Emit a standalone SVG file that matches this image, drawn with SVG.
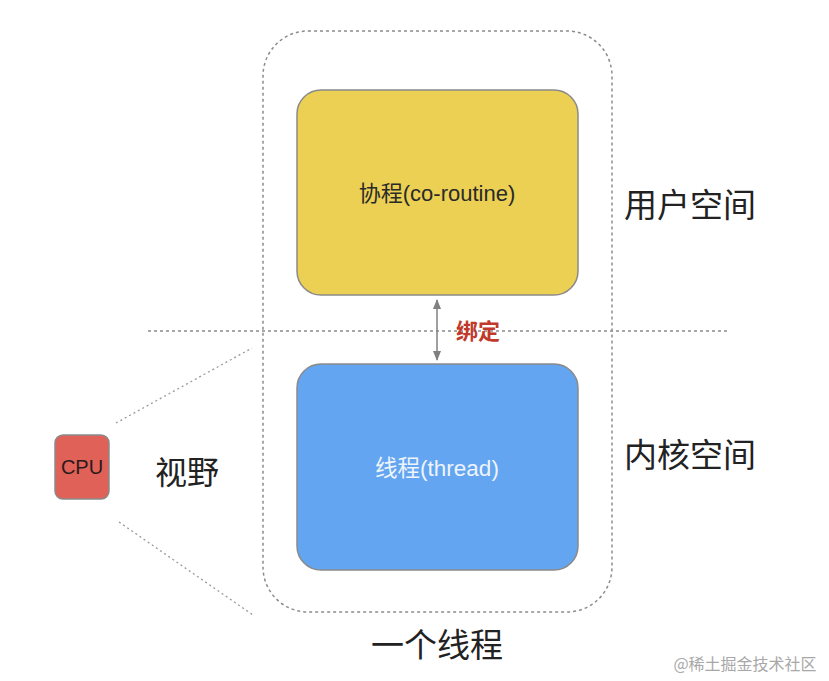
<svg xmlns="http://www.w3.org/2000/svg" width="829" height="681" viewBox="0 0 829 681">
<defs>
<style>
text{font-family:"Liberation Sans","Noto Sans CJK SC",sans-serif}
.cjk{font-family:"Noto Sans CJK SC",sans-serif}
.dash{fill:none;stroke:#8c8c8c;stroke-width:1.5;stroke-dasharray:3 3}
.dot{fill:none;stroke:#9a9a9a;stroke-width:1.3;stroke-dasharray:2 3}
.box{stroke:#8a8a8a;stroke-width:1.5}
</style>
<marker id="ah" viewBox="0 0 10 10" refX="9" refY="5" markerWidth="10" markerHeight="10" markerUnits="userSpaceOnUse" orient="auto-start-reverse">
<path d="M0,1 L10,5 L0,9 z" fill="#808080"/>
</marker>
</defs>
<rect width="829" height="681" fill="#ffffff"/>
<g id="thread-boundary">
<rect class="dash" x="263" y="31" width="349" height="581" rx="45" ry="45"/>
<text class="cjk" x="437" y="657" font-size="33" text-anchor="middle" fill="#222">一个线程</text>
</g>
<g id="divider">
<line class="dash" x1="148" y1="331" x2="730" y2="331"/>
</g>
<g id="coroutine">
<rect class="box" x="297" y="90" width="281" height="205" rx="24" ry="24" fill="#ecd053"/>
<text x="437" y="201" font-size="22" text-anchor="middle" fill="#2a2a2a">协程(co-routine)</text>
</g>
<g id="thread">
<rect class="box" x="297" y="364" width="281" height="206" rx="24" ry="24" fill="#63a5f0"/>
<text x="437" y="476" font-size="22.5" text-anchor="middle" fill="#eef4fc">线程(thread)</text>
</g>
<g id="cpu">
<rect class="box" x="55" y="435" width="54" height="64" rx="8" ry="8" fill="#df6157"/>
<text x="82" y="474" font-size="20" text-anchor="middle" fill="#2a1a1a">CPU</text>
</g>
<g id="labels">
<text class="cjk" x="690" y="217" font-size="33" text-anchor="middle" fill="#222">用户空间</text>
<text class="cjk" x="690" y="467" font-size="33" text-anchor="middle" fill="#222">内核空间</text>
<text class="cjk" x="187" y="484" font-size="32" text-anchor="middle" fill="#222">视野</text>
<text class="cjk" x="478" y="339" font-size="22" font-weight="bold" text-anchor="middle" fill="#c0392b">绑定</text>
</g>
<g id="connectors">
<line x1="437" y1="300" x2="437" y2="360" stroke="#808080" stroke-width="1.5" marker-start="url(#ah)" marker-end="url(#ah)"/>
<line class="dot" x1="116" y1="423" x2="252" y2="348"/>
<line class="dot" x1="119" y1="522" x2="253" y2="615"/>
</g>
<g id="watermark">
<text class="cjk" x="745" y="670" font-size="16" text-anchor="middle" fill="#a8a8a8">@稀土掘金技术社区</text>
</g>
</svg>
